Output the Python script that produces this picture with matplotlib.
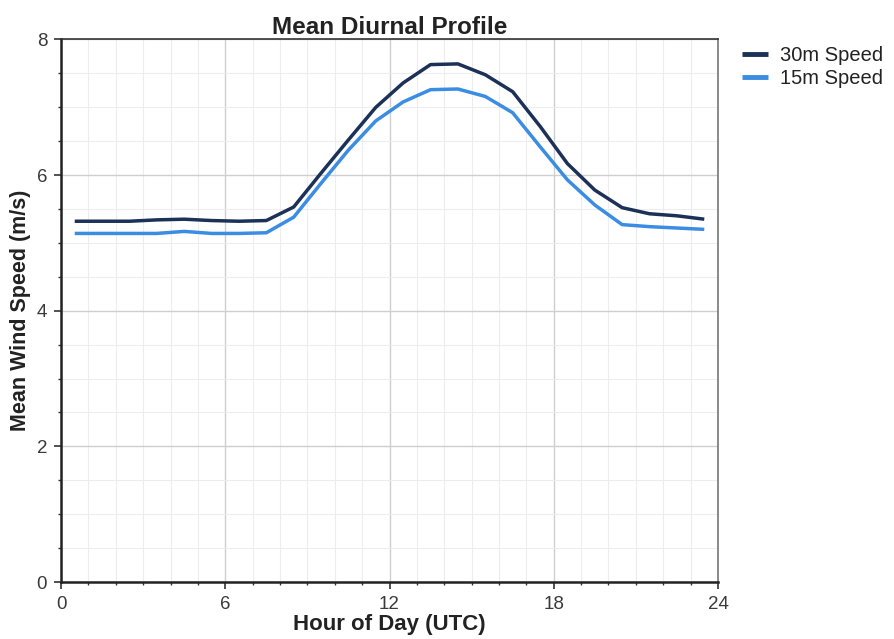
import matplotlib
matplotlib.use("Agg")
import matplotlib.pyplot as plt
from matplotlib.ticker import MultipleLocator

hours = [h + 0.5 for h in range(24)]
speed_30m = [5.32, 5.32, 5.32, 5.34, 5.35, 5.33, 5.32, 5.33, 5.53, 6.03, 6.52, 7.00,
             7.36, 7.63, 7.64, 7.48, 7.23, 6.72, 6.17, 5.78, 5.52, 5.43, 5.40, 5.35]
speed_15m = [5.14, 5.14, 5.14, 5.14, 5.17, 5.14, 5.14, 5.15, 5.38, 5.88, 6.37, 6.80,
             7.08, 7.26, 7.27, 7.16, 6.92, 6.42, 5.93, 5.56, 5.27, 5.24, 5.22, 5.20]
series_labels = ["30m Speed", "15m Speed"]
x_ticks = [0, 6, 12, 18, 24]
y_ticks = [0, 2, 4, 6, 8]

plt.rcParams['font.family'] = ['Liberation Sans', 'DejaVu Sans']

fig = plt.figure(figsize=(8.95, 6.39), dpi=100)
ax = fig.add_axes([0.0682, 0.0892, 0.734, 0.849])

ax.plot(hours, speed_30m, color="#1b3158", lw=2.5, label=series_labels[0], solid_capstyle="butt")
ax.plot(hours, speed_15m, color="#3b8de3", lw=2.5, label=series_labels[1], solid_capstyle="butt")

ax.set_xlim(0, 24)
ax.set_ylim(0, 8)
ax.set_xticks(x_ticks)
ax.set_yticks(y_ticks)
ax.xaxis.set_minor_locator(MultipleLocator(1))
ax.yaxis.set_minor_locator(MultipleLocator(0.5))
ax.grid(which="major", color="#cfcfcf", lw=1.0)
ax.grid(which="minor", color="#ededed", lw=0.8)
ax.set_axisbelow(True)

ax.tick_params(which="major", direction="out", length=5, width=1.2, colors="#333333",
               labelsize=13.5, labelcolor="#3a3a3a", pad=5)
ax.tick_params(which="minor", direction="out", length=2.5, width=1.0, colors="#333333")
ax.tick_params(axis="x", which="both", top=False)
ax.tick_params(axis="y", which="both", right=False)

for side in ["left", "bottom"]:
    ax.spines[side].set_linewidth(1.8)
    ax.spines[side].set_color("#222222")
ax.spines["top"].set_linewidth(1.2)
ax.spines["top"].set_color("#333333")
ax.spines["right"].set_linewidth(1.2)
ax.spines["right"].set_color("#777777")

ax.set_title("Mean Diurnal Profile", fontsize=17.5, fontweight="bold", color="#222222", pad=3)
ax.set_xlabel("Hour of Day (UTC)", fontsize=16, fontweight="bold", color="#222222", labelpad=1)
ax.set_ylabel("Mean Wind Speed (m/s)", fontsize=15.5, fontweight="bold", color="#222222", labelpad=4)

leg = ax.legend(loc="upper left", bbox_to_anchor=(1.024, 1.003), frameon=False,
                fontsize=14.5, handlelength=1.3, handletextpad=0.6, labelspacing=0.2,
                borderaxespad=0.0)
for line in leg.get_lines():
    line.set_linewidth(3.5)
for t in leg.get_texts():
    t.set_color("#222222")

fig.savefig("out.png", dpi=100)
